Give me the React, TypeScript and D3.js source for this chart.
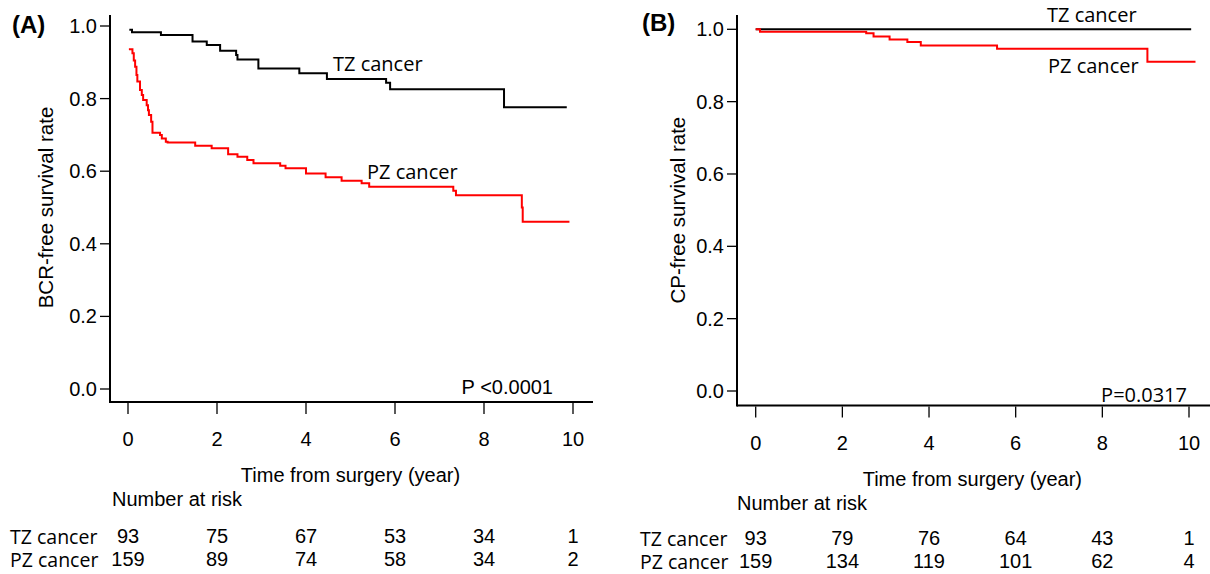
import React from 'react';
import * as d3 from 'd3';

// time axis / survival axis ticks
const timeTicks = [0, 2, 4, 6, 8, 10];
const survTicks = [0, 0.2, 0.4, 0.6, 0.8, 1.0];

// Kaplan-Meier steps: [year, survival]
const bcrTZ = [
  [0.03, 0.99], [0.09, 0.983], [0.74, 0.975], [1.45, 0.957], [1.77, 0.948],
  [2.07, 0.932], [2.43, 0.92], [2.46, 0.908], [2.93, 0.883], [3.85, 0.87],
  [4.47, 0.854], [5.8, 0.844], [5.89, 0.826], [8.45, 0.776], [9.86, 0.776],
];
const bcrPZ = [
  [0.02, 0.936], [0.1, 0.925], [0.13, 0.905], [0.16, 0.888], [0.19, 0.865],
  [0.21, 0.847], [0.27, 0.824], [0.31, 0.81], [0.34, 0.796], [0.42, 0.782],
  [0.45, 0.768], [0.47, 0.755], [0.52, 0.736], [0.55, 0.706], [0.72, 0.7],
  [0.76, 0.69], [0.85, 0.681], [0.89, 0.679], [1.51, 0.67], [1.88, 0.663],
  [2.25, 0.647], [2.46, 0.64], [2.68, 0.631], [2.82, 0.622], [3.42, 0.615],
  [3.54, 0.608], [4.0, 0.594], [4.44, 0.583], [4.8, 0.574], [5.25, 0.567],
  [5.42, 0.557], [7.31, 0.546], [7.37, 0.534], [8.85, 0.5], [8.87, 0.461],
  [9.92, 0.461],
];
const cpTZ = [[0.0, 1.0], [10.05, 1.0]];
const cpPZ = [
  [0.0, 1.0], [0.1, 0.993], [2.55, 0.989], [2.72, 0.98], [3.09, 0.972],
  [3.5, 0.965], [3.81, 0.955], [5.57, 0.946], [9.04, 0.91], [10.15, 0.91],
];

// number at risk
const groups = ['TZ cancer', 'PZ cancer'];
const riskA_TZ = [93, 75, 67, 53, 34, 1];
const riskA_PZ = [159, 89, 74, 58, 34, 2];
const riskB_TZ = [93, 79, 76, 64, 43, 1];
const riskB_PZ = [159, 134, 119, 101, 62, 4];

const ARIAL = 'Liberation Sans, Arial, sans-serif';
const SEGOE = 'Open Sans, Noto Sans, sans-serif';

const Panel = ({ p }) => {
  const x = d3.scaleLinear().domain([0, 10]).range([p.x0, p.x10]);
  const y = d3.scaleLinear().domain([0, 1]).range([p.y0, p.y1]);
  const line = d3.line().x(d => x(d[0])).y(d => y(d[1])).curve(d3.curveStepAfter);
  const midX = (p.x0 + p.x10) / 2;
  const midY = (p.y0 + p.y1) / 2;

  return (
    <g>
      <text x={p.tagX} y={p.tagY} fontFamily={ARIAL} fontWeight="bold" fontSize={24} dominantBaseline="central">{p.tag}</text>

      {/* axes */}
      <line x1={p.axX} x2={p.axX} y1={p.axTop} y2={p.axY + 1} stroke="#000" strokeWidth={2} />
      <line x1={p.axX} x2={p.axRight} y1={p.axY} y2={p.axY} stroke="#000" strokeWidth={2} />
      {survTicks.map(t => (
        <g key={t}>
          <line x1={p.axX - 10} x2={p.axX} y1={y(t)} y2={y(t)} stroke="#000" strokeWidth={1.3} />
          <text x={p.axX - 13} y={y(t)} textAnchor="end" dominantBaseline="central" fontFamily={ARIAL} fontSize={20}>{t.toFixed(1)}</text>
        </g>
      ))}
      {timeTicks.map(t => (
        <g key={t}>
          <line x1={x(t)} x2={x(t)} y1={p.axY + 1} y2={p.axY + 12} stroke="#000" strokeWidth={1.3} />
          <text x={x(t)} y={p.axY + 37} textAnchor="middle" dominantBaseline="central" fontFamily={ARIAL} fontSize={20}>{t}</text>
        </g>
      ))}
      <text transform={`translate(${p.yTitleX},${midY}) rotate(-90)`} textAnchor="middle" dominantBaseline="central" fontFamily={ARIAL} fontSize={20.5}>{p.yTitle}</text>
      <text x={midX} y={p.axY + 73} textAnchor="middle" dominantBaseline="central" fontFamily={ARIAL} fontSize={20}>Time from surgery (year)</text>

      {/* curves */}
      <path d={line(p.tz)} fill="none" stroke="#000" strokeWidth={2} />
      <path d={line(p.pz)} fill="none" stroke="#ff0000" strokeWidth={2} />
      <text x={p.tzLab[0]} y={p.tzLab[1]} dominantBaseline="central" fontFamily={SEGOE} fontSize={20}>TZ cancer</text>
      <text x={p.pzLab[0]} y={p.pzLab[1]} dominantBaseline="central" fontFamily={SEGOE} fontSize={20}>PZ cancer</text>
      <text x={p.pLab[0]} y={p.pLab[1]} textAnchor="end" dominantBaseline="central" fontFamily={p.pFont} fontSize={20}>{p.pText}</text>

      {/* risk table */}
      <text x={p.nrX} y={p.axY + 97} dominantBaseline="central" fontFamily={ARIAL} fontSize={20}>Number at risk</text>
      {[p.riskTZ, p.riskPZ].map((row, i) => (
        <g key={i}>
          <text x={p.rowX} y={p.rowY + i * 23} dominantBaseline="central" fontFamily={SEGOE} fontSize={19.5}>{groups[i]}</text>
          {row.map((n, j) => (
            <text key={j} x={x(timeTicks[j])} y={p.rowY + i * 23} textAnchor="middle" dominantBaseline="central" fontFamily={ARIAL} fontSize={20}>{n}</text>
          ))}
        </g>
      ))}
    </g>
  );
};

const panelA = {
  tag: '(A)', tagX: 12, tagY: 24,
  x0: 128, x10: 573, y0: 389, y1: 26,
  axX: 110, axY: 402, axTop: 15, axRight: 593,
  yTitle: 'BCR-free survival rate', yTitleX: 45,
  tz: bcrTZ, pz: bcrPZ,
  tzLab: [333, 63], pzLab: [367, 171],
  pLab: [553, 387], pText: 'P <0.0001', pFont: ARIAL,
  nrX: 112, rowX: 10, rowY: 536,
  riskTZ: riskA_TZ, riskPZ: riskA_PZ,
};

const panelB = {
  tag: '(B)', tagX: 642, tagY: 22,
  x0: 755.7, x10: 1189, y0: 391, y1: 29.3,
  axX: 737, axY: 405.5, axTop: 15, axRight: 1210,
  yTitle: 'CP-free survival rate', yTitleX: 677,
  tz: cpTZ, pz: cpPZ,
  tzLab: [1047, 14], pzLab: [1048, 65],
  pLab: [1187, 394], pText: 'P=0.0317', pFont: SEGOE,
  nrX: 737, rowX: 640, rowY: 538,
  riskTZ: riskB_TZ, riskPZ: riskB_PZ,
};

export default function App() {
  return (
    <svg width={1210} height={574} style={{ position: 'absolute', left: 0, top: 0, background: '#fff' }}>
      <rect width={1210} height={574} fill="#fff" />
      <Panel p={panelA} />
      <Panel p={panelB} />
    </svg>
  );
}
